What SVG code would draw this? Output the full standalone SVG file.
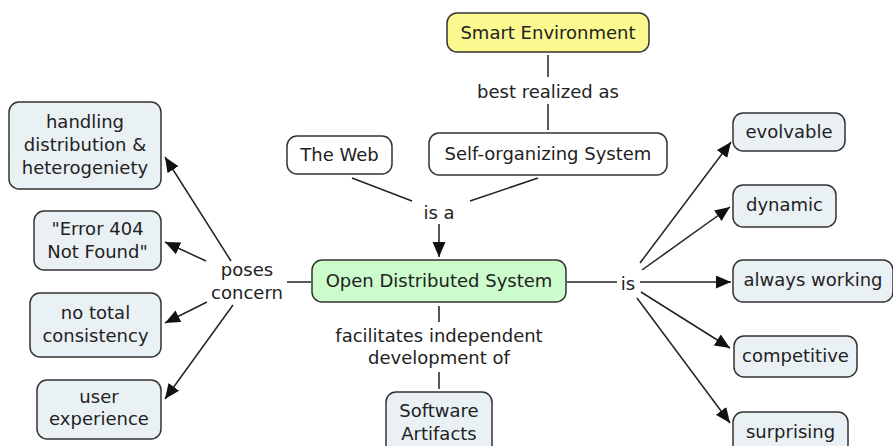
<svg xmlns="http://www.w3.org/2000/svg" width="893" height="446" viewBox="0 0 893 446">
<style>
.n rect{stroke:#333;stroke-width:1.5}
.c{fill:#eaf1f5}
text{font-family:"DejaVu Sans",Verdana,sans-serif;font-size:18px;fill:#222;text-anchor:middle}
.e line{stroke:#222;stroke-width:1.5}
</style>
<defs>
<marker id="a" markerUnits="userSpaceOnUse" markerWidth="16" markerHeight="14" refX="15" refY="6.5" orient="auto">
<path d="M0,0 L15,6.5 L0,13 z" fill="#111"/>
</marker>
</defs>
<rect width="893" height="446" fill="#fff"/>
<g class="e">
<line x1="548" y1="55" x2="548" y2="77"/>
<line x1="548" y1="104" x2="548" y2="130"/>
<line x1="352" y1="178" x2="412" y2="201"/>
<line x1="538" y1="178" x2="470" y2="201"/>
<line x1="439" y1="224" x2="439" y2="257" marker-end="url(#a)"/>
<line x1="439" y1="306" x2="439" y2="322"/>
<line x1="439" y1="372" x2="439" y2="389"/>
<line x1="287" y1="282" x2="311" y2="282"/>
<line x1="567" y1="282" x2="617" y2="282"/>
<line x1="231" y1="261" x2="165" y2="157" marker-end="url(#a)"/>
<line x1="206" y1="261" x2="165" y2="242" marker-end="url(#a)"/>
<line x1="207" y1="302" x2="165" y2="323" marker-end="url(#a)"/>
<line x1="233" y1="305" x2="165" y2="399" marker-end="url(#a)"/>
<line x1="640" y1="263" x2="731" y2="142" marker-end="url(#a)"/>
<line x1="642" y1="270" x2="730" y2="207" marker-end="url(#a)"/>
<line x1="640" y1="282" x2="731" y2="282" marker-end="url(#a)"/>
<line x1="641" y1="292" x2="730" y2="348" marker-end="url(#a)"/>
<line x1="637" y1="298" x2="730" y2="423" marker-end="url(#a)"/>
</g>
<g>
<text x="548" y="98">best realized as</text>
<text x="439" y="219">is a</text>
<text x="628" y="290">is</text>
<text x="247" y="276">poses</text>
<text x="247" y="299">concern</text>
<text x="439" y="342">facilitates independent</text>
<text x="439" y="364">development of</text>
</g>
<g id="smart" class="n"><rect x="447" y="13" width="202" height="39" rx="10" fill="#fbf98f"/><text x="548" y="39">Smart Environment</text></g>
<g id="web" class="n"><rect x="287" y="136" width="105" height="38" rx="10" fill="#fff"/><text x="339.5" y="161">The Web</text></g>
<g id="selforg" class="n"><rect x="429" y="133" width="238" height="42" rx="10" fill="#fff"/><text x="548" y="160">Self-organizing System</text></g>
<g id="ods" class="n"><rect x="312" y="260" width="254" height="42" rx="10" fill="#ccfccc"/><text x="439" y="287">Open Distributed System</text></g>
<g id="software" class="n"><rect x="386" y="392" width="106" height="64" rx="10" class="c"/><text x="439" y="417">Software</text><text x="439" y="440">Artifacts</text></g>
<g id="handling" class="n"><rect x="9" y="102" width="152" height="87" rx="10" class="c"/><text x="85" y="128">handling</text><text x="85" y="151">distribution &amp;</text><text x="85" y="174">heterogeniety</text></g>
<g id="error" class="n"><rect x="34" y="211" width="127" height="59" rx="10" class="c"/><text x="97.5" y="235">"Error 404</text><text x="97.5" y="258">Not Found"</text></g>
<g id="consistency" class="n"><rect x="30" y="293" width="131" height="64" rx="10" class="c"/><text x="95.5" y="319">no total</text><text x="95.5" y="342">consistency</text></g>
<g id="user" class="n"><rect x="37" y="380" width="124" height="59" rx="10" class="c"/><text x="99" y="403">user</text><text x="99" y="425">experience</text></g>
<g id="evolvable" class="n"><rect x="733" y="113" width="112" height="38" rx="10" class="c"/><text x="789" y="138">evolvable</text></g>
<g id="dynamic" class="n"><rect x="733" y="185" width="103" height="42" rx="10" class="c"/><text x="784.5" y="211">dynamic</text></g>
<g id="always" class="n"><rect x="733" y="260" width="160" height="42" rx="10" class="c"/><text x="813" y="286">always working</text></g>
<g id="competitive" class="n"><rect x="734" y="336" width="123" height="41" rx="10" class="c"/><text x="795.5" y="362">competitive</text></g>
<g id="surprising" class="n"><rect x="733" y="412" width="115" height="44" rx="10" class="c"/><text x="790.5" y="438">surprising</text></g>
</svg>
